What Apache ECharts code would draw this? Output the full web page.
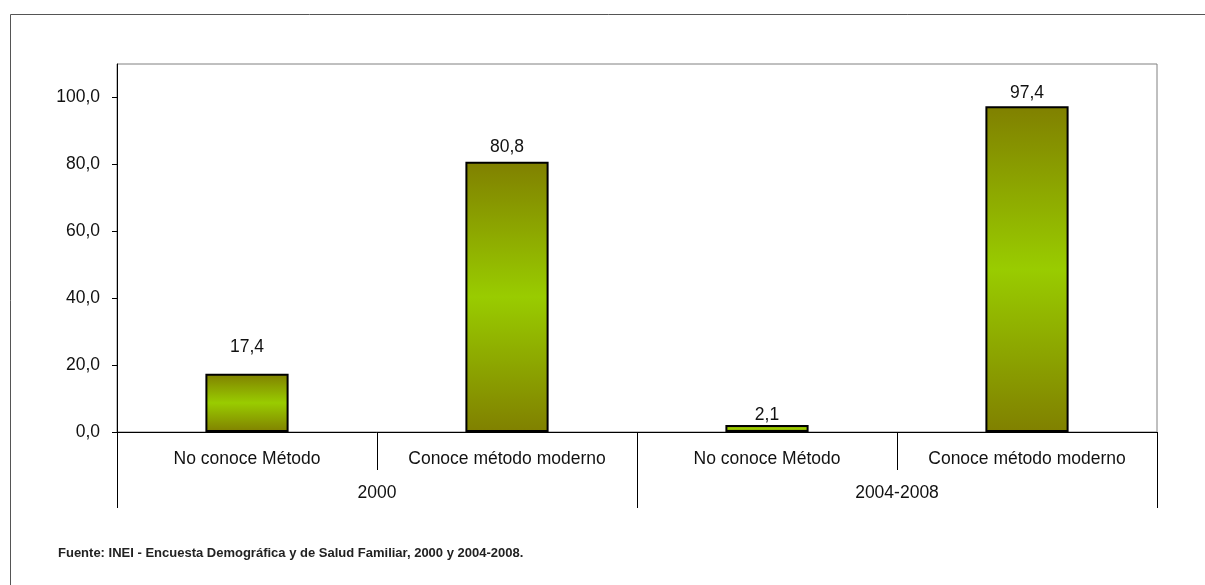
<!DOCTYPE html>
<html><head><meta charset="utf-8">
<script src="https://cdn.jsdelivr.net/npm/echarts@6/dist/echarts.min.js"></script>
<style>html,body{margin:0;padding:0;background:#fff}#c{width:1205px;height:585px}</style>
</head><body><div id="c"></div>
<script>
const categories = ['No conoce Método', 'Conoce método moderno', 'No conoce Método', 'Conoce método moderno'];
const groups = ['2000', '2004-2008'];
const values = [17.4, 80.8, 2.1, 97.4];
const labelGaps = [18, 6, 1, 4];
const yTicks = [0, 20, 40, 60, 80, 100];
const source = 'Fuente: INEI - Encuesta Demográfica y de Salud Familiar, 2000 y 2004-2008.';

const FONT = '"Liberation Sans Narrow", "Arial Narrow", "Liberation Sans", sans-serif';
const FS = 17.5;
const fmt = v => v.toFixed(1).replace('.', ',');
const chart = echarts.init(document.getElementById('c'));
const grad = new echarts.graphic.LinearGradient(0, 0, 0, 1, [
  {offset: 0, color: '#808000'},
  {offset: 0.5, color: '#99CC00'},
  {offset: 1, color: '#808000'}
]);
chart.setOption({
  animation: false,
  grid: {left: 117, right: 48, top: 64, bottom: 153, show: true, borderColor: '#808080', borderWidth: 1},
  graphic: [
    {type: 'rect', shape: {x: 10.5, y: 14.5, width: 1300, height: 700}, style: {fill: 'none', stroke: '#555', lineWidth: 1}, silent: true},
    {type: 'text', left: 58, top: 547, style: {text: source, font: 'bold 13px ' + FONT, fill: '#222'}}
  ],
  xAxis: [
    {type: 'category', data: categories, position: 'bottom',
     axisLine: {show: true, lineStyle: {color: '#000', width: 1}},
     axisTick: {show: true, length: 38, lineStyle: {color: '#000'}},
     axisLabel: {show: true, interval: 0, color: '#111', fontFamily: FONT, fontSize: FS, margin: 18}},
    {type: 'category', data: groups, position: 'bottom',
     axisLine: {show: false},
     axisTick: {show: true, length: 76, lineStyle: {color: '#000'}},
     axisLabel: {show: true, interval: 0, color: '#111', fontFamily: FONT, fontSize: FS, margin: 52}}
  ],
  yAxis: {type: 'value', min: 0, max: 110, interval: 20,
    axisLine: {show: true, lineStyle: {color: '#000'}},
    axisTick: {show: true, length: 5, customValues: yTicks, lineStyle: {color: '#000'}},
    splitLine: {show: false},
    axisLabel: {color: '#111', fontFamily: FONT, fontSize: FS, margin: 17, customValues: yTicks,
      formatter: v => fmt(v)}},
  series: [{
    type: 'bar', xAxisIndex: 0, barWidth: '32%',
    data: values.map((v, i) => ({value: v, label: {distance: labelGaps[i]}})),
    itemStyle: {color: grad, borderColor: '#000', borderWidth: 2},
    label: {show: true, position: 'top', color: '#111', fontFamily: FONT, fontSize: FS, formatter: p => fmt(p.value)}
  }]
});
</script></body></html>
